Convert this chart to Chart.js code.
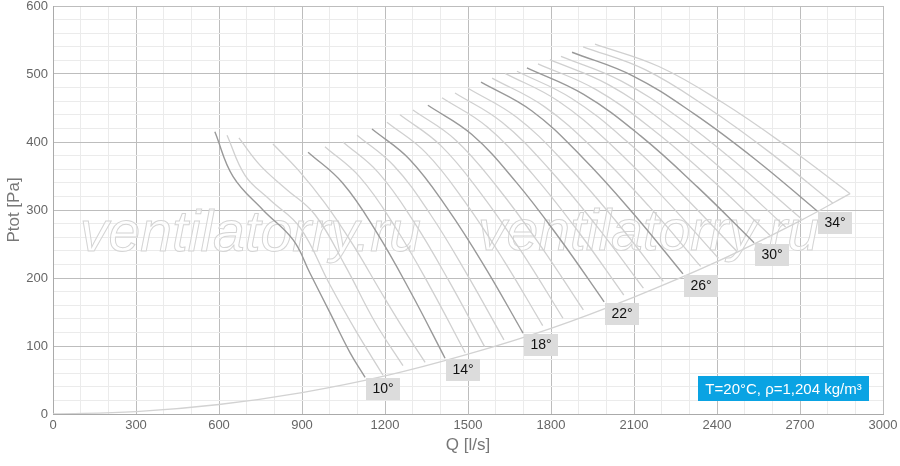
<!DOCTYPE html>
<html>
<head>
<meta charset="utf-8">
<script src="https://cdn.jsdelivr.net/npm/chart.js@4.4.1/dist/chart.umd.min.js"></script>
<style>
  html, body { margin: 0; padding: 0; background: #fff; }
  #chart { display: block; }
</style>
</head>
<body>
<canvas id="chart" width="900" height="466"></canvas>
<script>
/* ── DATA ───────────────────────────────────── */
// x ticks / y ticks
const xTicks = [0, 300, 600, 900, 1200, 1500, 1800, 2100, 2400, 2700, 3000];
const yTicks = [0, 100, 200, 300, 400, 500, 600];

// system (network) curve
const sysQ = [0, 300, 600, 900, 1200, 1500, 1800, 2100, 2400, 2700, 2881];
const sysP = [0, 3.5, 14, 31.5, 56, 88, 126, 172, 224, 284, 324];

// blade angle curves, Q [l/s] and Ptot [Pa]
const q10 = [585, 651, 759, 868, 929, 1001, 1074, 1128];
const p10 = [415, 349, 300, 256, 207, 149, 90, 54];
const q11 = [629, 694, 784, 893, 1001, 1092, 1193];
const p11 = [410, 351, 315, 274, 190, 124, 57];
const q12 = [672, 748, 839, 947, 1055, 1164, 1265];
const p12 = [406, 366, 332, 293, 219, 135, 71];
const q13 = [795, 886, 983, 1084, 1186, 1273, 1345];
const p13 = [397, 359, 310, 249, 179, 121, 76];
const q14 = [922, 1046, 1170, 1293, 1417];
const p14 = [385, 340, 267, 179, 82];
const q15 = [983, 1110, 1237, 1363, 1490];
const p15 = [393, 348, 275, 187, 90];
const q16 = [1048, 1176, 1304, 1432, 1560];
const p16 = [400, 355, 283, 195, 99];
const q17 = [1099, 1232, 1365, 1497, 1630];
const p17 = [410, 365, 293, 205, 109];
const q18 = [1153, 1290, 1426, 1563, 1699];
const p18 = [419, 374, 302, 215, 119];
const q19 = [1207, 1348, 1489, 1629, 1770];
const p19 = [429, 384, 312, 226, 130];
const q20 = [1254, 1401, 1549, 1696, 1843];
const p20 = [440, 395, 323, 237, 141];
const q21 = [1301, 1455, 1609, 1763, 1917];
const p21 = [447, 403, 332, 247, 153];
const q22 = [1355, 1514, 1674, 1833, 1992];
const p22 = [454, 411, 341, 257, 165];
const q23 = [1406, 1570, 1735, 1899, 2063];
const p23 = [465, 422, 352, 268, 175];
const q24 = [1453, 1623, 1794, 1964, 2134];
const p24 = [472, 429, 360, 277, 185];
const q25 = [1500, 1677, 1853, 2030, 2206];
const p25 = [479, 436, 368, 286, 195];
const q26 = [1547, 1730, 1912, 2095, 2277];
const p26 = [488, 446, 378, 296, 206];
const q27 = [1587, 1776, 1964, 2153, 2341];
const p27 = [494, 452, 386, 306, 217];
const q28 = [1634, 1827, 2020, 2212, 2405];
const p28 = [501, 460, 395, 316, 229];
const q29 = [1677, 1875, 2074, 2272, 2470];
const p29 = [504, 464, 401, 324, 240];
const q30 = [1713, 1918, 2124, 2329, 2534];
const p30 = [509, 470, 409, 334, 252];
const q31 = [1753, 1963, 2172, 2382, 2591];
const p31 = [515, 477, 417, 344, 263];
const q32 = [1796, 2009, 2222, 2435, 2648];
const p32 = [521, 484, 425, 354, 275];
const q33 = [1836, 2053, 2271, 2488, 2705];
const p33 = [526, 490, 433, 363, 287];
const q34 = [1876, 2097, 2319, 2540, 2761];
const p34 = [532, 497, 441, 374, 299];
const q35 = [1916, 2142, 2368, 2593, 2819];
const p35 = [540, 506, 450, 384, 310];
const q36 = [1959, 2190, 2420, 2651, 2881];
const p36 = [544, 511, 458, 394, 324];

const angles = [10, 11, 12, 13, 14, 15, 16, 17, 18, 19, 20, 21, 22, 23,
                24, 25, 26, 27, 28, 29, 30, 31, 32, 33, 34, 35, 36];
const curveQ = [q10, q11, q12, q13, q14, q15, q16, q17, q18, q19, q20, q21, q22, q23,
                q24, q25, q26, q27, q28, q29, q30, q31, q32, q33, q34, q35, q36];
const curveP = [p10, p11, p12, p13, p14, p15, p16, p17, p18, p19, p20, p21, p22, p23,
                p24, p25, p26, p27, p28, p29, p30, p31, p32, p33, p34, p35, p36];
const labelledAngles = [10, 14, 18, 22, 26, 30, 34];

const infoText = 'T=20°C, ρ=1,204 kg/m³';
const watermark = 'ventilatorry.ru';

/* ── DATASETS ───────────────────────────────── */
const toPoints = (qs, ps) => qs.map((q, i) => ({ x: q, y: ps[i] }));

const datasets = [];
datasets.push({
    label: 'system',
    data: toPoints(sysQ, sysP),
    borderColor: '#d2d2d2',
    borderWidth: 1.3
});
// light curves first, dark ones on top
angles.forEach((a, i) => {
    if (labelledAngles.includes(a)) return;
    datasets.push({
        label: a + '°',
        data: toPoints(curveQ[i], curveP[i]),
        borderColor: '#d0d0d0',
        borderWidth: 1.3
    });
});
angles.forEach((a, i) => {
    if (!labelledAngles.includes(a)) return;
    datasets.push({
        label: a + '°',
        data: toPoints(curveQ[i], curveP[i]),
        borderColor: '#999',
        borderWidth: 1.4,
        angleLabel: true
    });
});

/* ── PLUGINS ────────────────────────────────── */
const FONT = '"Liberation Sans", Arial, sans-serif';

const watermarkPlugin = {
    id: 'watermark',
    beforeDatasetsDraw(chart) {
        const c = chart.ctx;
        c.save();
        c.font = 'italic 57px ' + FONT;
        c.fillStyle = 'rgba(255,255,255,0.55)';
        c.strokeStyle = '#d4d4d4';
        c.lineWidth = 1;
        [[80, 251], [478, 250]].forEach(([x, y]) => {
            c.fillText(watermark, x, y);
            c.strokeText(watermark, x, y);
        });
        c.restore();
    }
};

const angleLabelPlugin = {
    id: 'angleLabels',
    afterDatasetsDraw(chart) {
        const c = chart.ctx;
        c.save();
        c.font = '14px ' + FONT;
        c.textAlign = 'center';
        c.textBaseline = 'middle';
        chart.data.datasets.forEach((ds, i) => {
            if (!ds.angleLabel) return;
            const pts = chart.getDatasetMeta(i).data;
            const end = pts[pts.length - 1];
            const bx = Math.round(end.x) + 1, by = Math.round(end.y) + 1;
            c.fillStyle = '#dcdcdc';
            c.fillRect(bx, by, 34, 22);
            c.fillStyle = '#111';
            c.fillText(ds.label, bx + 17, by + 11.5);
        });
        c.restore();
    }
};

const infoPlugin = {
    id: 'infoBox',
    afterDraw(chart) {
        const c = chart.ctx;
        const area = chart.chartArea;
        c.save();
        c.font = '15px ' + FONT;
        const w = Math.ceil(c.measureText(infoText).width) + 14;
        const h = 25;
        const x = area.right - 14 - w, y = area.bottom - 13 - h;
        c.fillStyle = '#0aa3e3';
        c.fillRect(x, y, w, h);
        c.fillStyle = '#fff';
        c.textAlign = 'center';
        c.textBaseline = 'middle';
        c.fillText(infoText, x + w / 2, y + h / 2 + 1);
        c.restore();
    }
};

/* ── CHART ──────────────────────────────────── */
Chart.defaults.font.family = FONT;

new Chart(document.getElementById('chart'), {
    type: 'line',
    data: { datasets },
    options: {
        responsive: false,
        animation: false,
        devicePixelRatio: 1,
        layout: { padding: { top: 6, right: 17, left: 0, bottom: 0 } },
        plugins: { legend: { display: false }, tooltip: { enabled: false } },
        elements: { point: { radius: 0 }, line: { fill: false, tension: 0.4 } },
        scales: {
            x: {
                type: 'linear',
                min: xTicks[0],
                max: xTicks[xTicks.length - 1],
                afterBuildTicks: s => {
                    const t = [];
                    for (let v = s.min; v <= s.max; v += 100) t.push({ value: v });
                    s.ticks = t;
                },
                afterFit: s => { s.height = 52; s.paddingLeft = 0; s.paddingRight = 0; },
                ticks: {
                    autoSkip: false,
                    maxRotation: 0,
                    padding: 4,
                    color: '#666',
                    font: { size: 13 },
                    callback: v => xTicks.includes(v) ? String(v) : ''
                },
                grid: {
                    drawTicks: false,
                    color: c => xTicks.includes(c.tick.value) ? '#bdbdbd' : '#ebebeb'
                },
                border: { color: '#aaa' },
                title: {
                    display: true, text: 'Q [l/s]', color: '#777',
                    font: { size: 17 }, padding: { top: 0, bottom: 10 }
                }
            },
            y: {
                type: 'linear',
                min: yTicks[0],
                max: yTicks[yTicks.length - 1],
                afterBuildTicks: s => {
                    const t = [];
                    for (let v = s.min; v <= s.max; v += 20) t.push({ value: v });
                    s.ticks = t;
                },
                afterFit: s => { s.width = 53; s.paddingTop = 0; s.paddingBottom = 0; },
                ticks: {
                    autoSkip: false,
                    padding: 5,
                    color: '#666',
                    font: { size: 13 },
                    callback: v => yTicks.includes(v) ? String(v) : ''
                },
                grid: {
                    drawTicks: false,
                    color: c => yTicks.includes(c.tick.value) ? '#bdbdbd' : '#ebebeb'
                },
                border: { color: '#aaa' },
                title: {
                    display: true, text: 'Ptot [Pa]', color: '#777',
                    font: { size: 17 }, padding: { top: 4, bottom: 0 }
                }
            }
        }
    },
    plugins: [watermarkPlugin, angleLabelPlugin, infoPlugin]
});
</script>
</body>
</html>
